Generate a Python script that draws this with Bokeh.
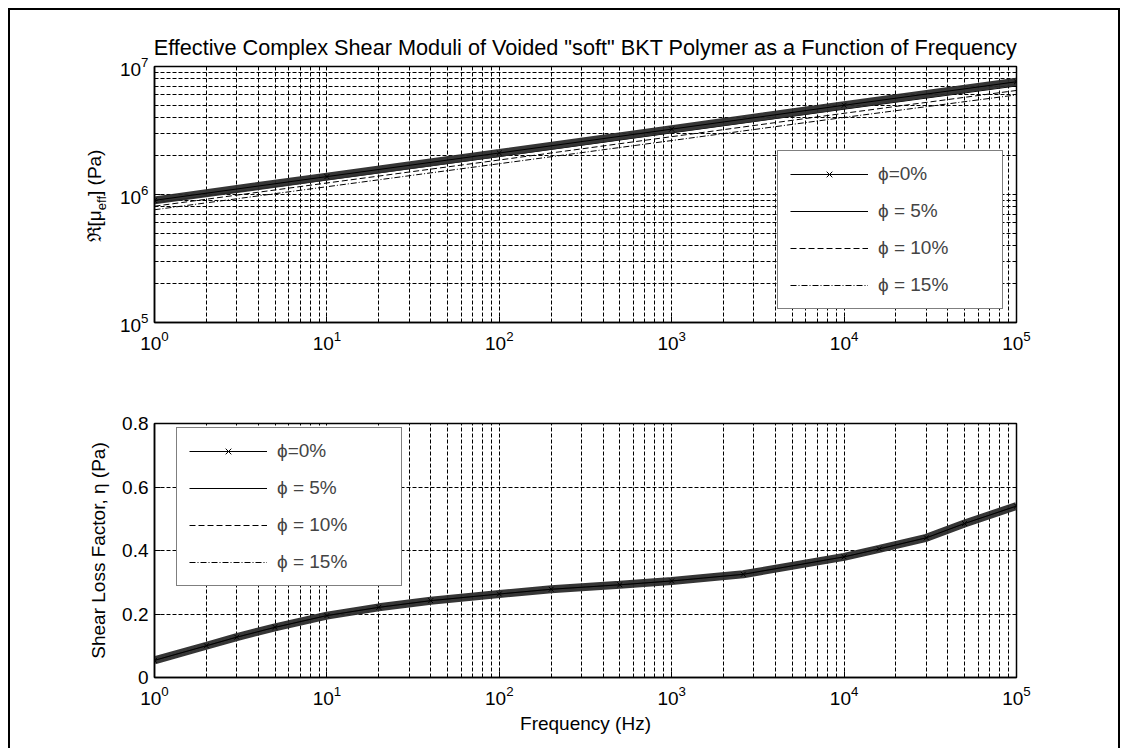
from bokeh.plotting import figure
from bokeh.models import (FixedTicker, Legend, LegendItem, Range1d, Div)
from bokeh.layouts import column, row
from bokeh.embed import file_html
from bokeh.resources import INLINE

# ---------------- data ----------------
freq_mu = [1, 10, 100, 1000, 10000, 100000]
mu_phi0 = [9.0e5, 1.38e6, 2.11e6, 3.24e6, 4.98e6, 7.6e6]
mu_phi5 = [8.6e5, 1.30e6, 1.98e6, 3.03e6, 4.64e6, 7.05e6]
mu_phi10 = [8.1e5, 1.23e6, 1.86e6, 2.83e6, 4.31e6, 6.5e6]
mu_phi15 = [7.6e5, 1.15e6, 1.74e6, 2.64e6, 4.0e6, 6.0e6]

freq_eta = [1, 2, 3, 5, 10, 20, 40, 100, 200, 500, 1000, 2600,
            10000, 16000, 30000, 50000, 100000]
eta_phi0 = [0.054, 0.10, 0.127, 0.158, 0.195, 0.221, 0.242, 0.263, 0.278,
            0.292, 0.304, 0.325, 0.38, 0.405, 0.44, 0.485, 0.54]
eta_phi5 = list(eta_phi0)
eta_phi10 = list(eta_phi0)
eta_phi15 = list(eta_phi0)

labels = ["\u03d5=0%", "\u03d5 = 5%", "\u03d5 = 10%", "\u03d5 = 15%"]

x_major = [1, 10, 100, 1000, 10000, 100000]
x_minor = [m * 10 ** e for e in range(5) for m in range(2, 10)]
y_major_mu = [1e5, 1e6, 1e7]
y_minor_mu = [m * 10 ** e for e in range(5, 7) for m in range(2, 10)]
y_major_eta = [0, 0.2, 0.4, 0.6, 0.8]
y_eta_labels = {0: "0", 0.2: "0.2", 0.4: "0.4", 0.6: "0.6", 0.8: "0.8"}

title_text = 'Effective Complex Shear Moduli of Voided "soft" BKT Polymer as a Function of Frequency'
ylabel_main, ylabel_sub, ylabel_tail = "\u211c[\u03bc", "eff", "] (Pa)"

FONT = "Liberation Sans"
FS = "19px"


def style(p, yminor=True):
    p.outline_line_color = "black"
    p.outline_line_width = 1.5
    p.background_fill_color = "white"
    p.border_fill_color = "white"
    for ax in (p.xaxis[0], p.yaxis[0]):
        ax.axis_line_color = "black"
        ax.axis_line_width = 1.5
        ax.major_tick_in = 6
        ax.major_tick_out = 0
        ax.minor_tick_in = 3
        ax.minor_tick_out = 0
        ax.major_tick_line_color = "black"
        ax.minor_tick_line_color = "black"
        ax.major_label_text_font = FONT
        ax.major_label_text_font_size = FS
        ax.major_label_text_color = "black"
        ax.axis_label_text_font = FONT
        ax.axis_label_text_font_size = FS
        ax.axis_label_text_font_style = "normal"
        ax.axis_label_text_color = "black"
    p.xaxis.major_label_standoff = 8
    p.yaxis.major_label_standoff = 6
    for g in (p.xgrid[0], p.ygrid[0]):
        g.grid_line_color = "black"
        g.grid_line_dash = "4 2"
        g.grid_line_alpha = 1
        g.grid_line_width = 1
    p.xgrid.minor_grid_line_color = "black"
    p.xgrid.minor_grid_line_dash = "4 2"
    p.xgrid.minor_grid_line_alpha = 1
    if yminor:
        p.ygrid.minor_grid_line_color = "black"
        p.ygrid.minor_grid_line_dash = "4 2"
        p.ygrid.minor_grid_line_alpha = 1


def add_series(p, x, ys):
    y0, y5, y10, y15 = ys
    r5 = p.line(x, y5, line_color="black", line_width=1)
    r10 = p.line(x, y10, line_color="black", line_width=1, line_dash="6 3")
    r15 = p.line(x, y15, line_color="black", line_width=1, line_dash="6 2 1 2")
    p.line(x, y0, line_color="#2b2b2b", line_width=8, line_alpha=0.95)
    r0 = p.line(x, y0, line_color="black", line_width=1)
    s0 = p.scatter(x, y0, marker="x", size=7, line_color="black")
    return [LegendItem(label=labels[0], renderers=[r0, s0]),
            LegendItem(label=labels[1], renderers=[r5]),
            LegendItem(label=labels[2], renderers=[r10]),
            LegendItem(label=labels[3], renderers=[r15])]


def make_legend(items, loc):
    return Legend(items=items, location=loc, border_line_color="black",
                  border_line_width=1.5, background_fill_color="white",
                  background_fill_alpha=1, label_text_font=FONT,
                  label_text_font_size=FS, glyph_width=78, glyph_height=20,
                  label_height=20, label_width=112, spacing=15, padding=12,
                  margin=0, label_standoff=10)


# ---------------- top figure ----------------
LABEL_W = 100
top = figure(width=1108 - LABEL_W, height=360, x_axis_type="log", y_axis_type="log",
             x_range=Range1d(1, 1e5), y_range=Range1d(1e5, 1e7),
             output_backend="svg", toolbar_location=None,
             min_border_left=144 - LABEL_W, min_border_right=102,
             min_border_top=56, min_border_bottom=48, title=title_text)
top.title.text_font = FONT
top.title.text_font_size = "21.7px"
top.title.text_font_style = "normal"
top.title.text_color = "black"
top.title.align = "center"
top.title.standoff = 13
style(top, yminor=True)
top.xaxis.ticker = FixedTicker(ticks=x_major, minor_ticks=x_minor)
top.yaxis.ticker = FixedTicker(ticks=y_major_mu, minor_ticks=y_minor_mu)
items_top = add_series(top, freq_mu, [mu_phi0, mu_phi5, mu_phi10, mu_phi15])
top.add_layout(make_legend(items_top, (623, 13)))

# y-axis label with a real subscript, as rotated HTML text beside the top plot
ylabel_html = (
    '<span style="position:relative; left:35px; top:6px; display:inline-block; '
    'transform:rotate(-90deg); white-space:nowrap; font-family:\'Liberation Sans\'; '
    'font-size:19px; color:black; line-height:22px;">'
    f'{ylabel_main}<sub style="font-size:13px; line-height:0;">{ylabel_sub}</sub>{ylabel_tail}'
    '</span>'
)
ylabel_div = Div(text=ylabel_html, width=LABEL_W, height=360, margin=0,
                 styles={"display": "flex", "align-items": "center",
                         "justify-content": "center", "background-color": "white",
                         "overflow": "visible"})

# ---------------- bottom figure ----------------
bot = figure(width=1108, height=378, x_axis_type="log",
             x_range=Range1d(1, 1e5), y_range=Range1d(0, 0.8),
             output_backend="svg", toolbar_location=None,
             min_border_left=144, min_border_right=102,
             min_border_top=53, min_border_bottom=71)
style(bot, yminor=False)
bot.xaxis.ticker = FixedTicker(ticks=x_major, minor_ticks=x_minor)
bot.yaxis.ticker = FixedTicker(ticks=y_major_eta)
bot.yaxis.minor_tick_line_color = None
bot.yaxis.major_label_overrides = y_eta_labels
bot.xaxis.axis_label = "Frequency (Hz)"
bot.xaxis.axis_label_standoff = 5
bot.yaxis.axis_label = "Shear Loss Factor, \u03b7 (Pa)"
bot.yaxis.axis_label_standoff = 10
items_bot = add_series(bot, freq_eta, [eta_phi0, eta_phi5, eta_phi10, eta_phi15])
bot.add_layout(make_legend(items_bot, (22, 91)))

layout = column(row(ylabel_div, top, spacing=0), bot, spacing=0,
                styles={"border-left": "2px solid black",
                        "border-top": "2px solid black",
                        "border-right": "2px solid black",
                        "margin-left": "8px",
                        "margin-top": "8px",
                        "background-color": "white"})

open("out.html", "w").write(file_html(layout, INLINE))
